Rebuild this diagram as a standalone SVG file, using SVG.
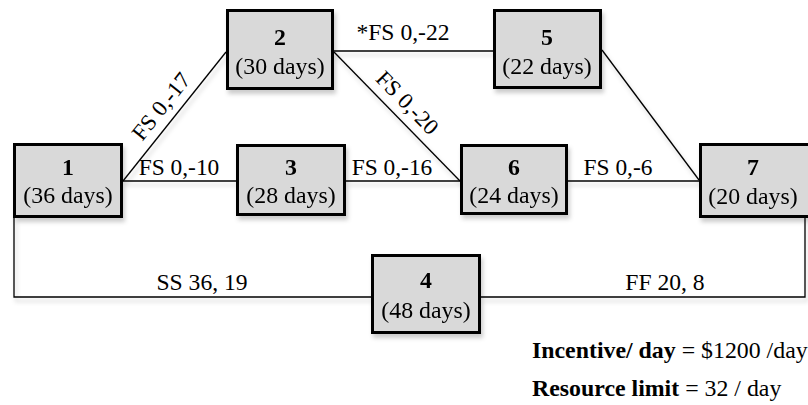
<svg xmlns="http://www.w3.org/2000/svg" width="808" height="405" viewBox="0 0 808 405">
  <defs>
    <filter id="shadow" x="-10%" y="-10%" width="120%" height="130%">
      <feDropShadow dx="2" dy="4" stdDeviation="2.2" flood-color="#000" flood-opacity="0.2"/>
    </filter>
    <style>
      .box { fill: #d9d9d9; stroke: #000; stroke-width: 3; }
      .edge { fill: none; stroke: #000; stroke-width: 1.3; }
      text { font-family: "Liberation Serif", "Times New Roman", serif; font-size: 22.5px; fill: #000; }
      .num { font-weight: bold; text-anchor: middle; }
      .dur { text-anchor: middle; }
      .lbl { text-anchor: middle; }
      .b { font-weight: bold; }
    </style>
  </defs>

  <!-- precedence links -->
  <g id="connectors" filter="url(#shadow)">
    <path class="edge" d="M123,181 L226,52"/>
    <path class="edge" d="M123,181 H236"/>
    <path class="edge" d="M334,51 H493"/>
    <path class="edge" d="M334,52 L460,181"/>
    <path class="edge" d="M346,181 H460"/>
    <path class="edge" d="M568,181 H699"/>
    <path class="edge" d="M602,50 L699,180"/>
    <path class="edge" d="M14,218 V297 H371"/>
    <path class="edge" d="M481,297 H805 V218"/>
  </g>

  <!-- link labels -->
  <g id="link-labels">
    <text class="lbl" transform="translate(167,111) rotate(-51.4) scale(1.02,1)">FS 0,-17</text>
    <text class="lbl" transform="translate(179,175) scale(1.04,1)">FS 0,-10</text>
    <text class="lbl" transform="translate(403,40) scale(1.05,1)">*FS 0,-22</text>
    <text class="lbl" transform="translate(402,108) rotate(45.7) scale(1.02,1)">FS 0,-20</text>
    <text class="lbl" transform="translate(392,175) scale(1.04,1)">FS 0,-16</text>
    <text class="lbl" transform="translate(618,175) scale(1.04,1)">FS 0,-6</text>
    <text class="lbl" transform="translate(202,290) scale(1.05,1)">SS 36, 19</text>
    <text class="lbl" transform="translate(665,290) scale(1.05,1)">FF 20, 8</text>
  </g>

  <!-- activities -->
  <g id="node1" filter="url(#shadow)">
    <rect class="box" x="14.5" y="144.5" width="107" height="72"/>
    <text class="num" transform="translate(68,175) scale(1.06,1)">1</text>
    <text class="dur" transform="translate(68,203) scale(1.06,1)">(36 days)</text>
  </g>
  <g id="node2" filter="url(#shadow)">
    <rect class="box" x="227.5" y="10.5" width="105" height="78"/>
    <text class="num" transform="translate(280,45) scale(1.06,1)">2</text>
    <text class="dur" transform="translate(280,74) scale(1.06,1)">(30 days)</text>
  </g>
  <g id="node3" filter="url(#shadow)">
    <rect class="box" x="237.5" y="145.5" width="107" height="69"/>
    <text class="num" transform="translate(291,175) scale(1.06,1)">3</text>
    <text class="dur" transform="translate(291,203) scale(1.06,1)">(28 days)</text>
  </g>
  <g id="node4" filter="url(#shadow)">
    <rect class="box" x="372.5" y="255.5" width="107" height="77"/>
    <text class="num" transform="translate(426,288) scale(1.06,1)">4</text>
    <text class="dur" transform="translate(426,318) scale(1.06,1)">(48 days)</text>
  </g>
  <g id="node5" filter="url(#shadow)">
    <rect class="box" x="494.5" y="10.5" width="106" height="77"/>
    <text class="num" transform="translate(547,45) scale(1.06,1)">5</text>
    <text class="dur" transform="translate(547,74) scale(1.06,1)">(22 days)</text>
  </g>
  <g id="node6" filter="url(#shadow)">
    <rect class="box" x="461.5" y="145.5" width="105" height="68"/>
    <text class="num" transform="translate(514,175) scale(1.06,1)">6</text>
    <text class="dur" transform="translate(514,203) scale(1.06,1)">(24 days)</text>
  </g>
  <g id="node7" filter="url(#shadow)">
    <rect class="box" x="700.5" y="144.5" width="109" height="72"/>
    <text class="num" transform="translate(753,175) scale(1.06,1)">7</text>
    <text class="dur" transform="translate(753,204) scale(1.06,1)">(20 days)</text>
  </g>

  <!-- project parameters -->
  <g id="notes">
    <text transform="translate(532,358) scale(1.06,1)"><tspan class="b">Incentive/ day</tspan> = $1200 /day</text>
    <text transform="translate(532,396) scale(1.06,1)"><tspan class="b">Resource limit</tspan> = 32 / day</text>
  </g>
</svg>
